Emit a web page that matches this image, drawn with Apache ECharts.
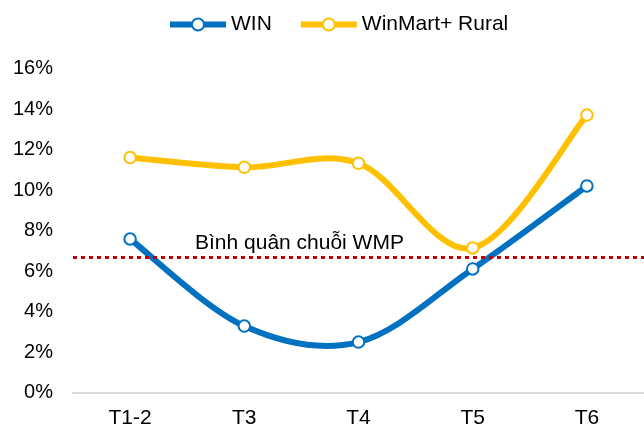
<!DOCTYPE html>
<html><head><meta charset="utf-8">
<script src="https://cdn.jsdelivr.net/npm/echarts@6/dist/echarts.min.js"></script>
<style>html,body{margin:0;padding:0;background:#fff}#c{width:644px;height:429px}</style>
</head><body><div id="c"></div>
<script>
var categories = ['T1-2', 'T3', 'T4', 'T5', 'T6'];
var winValues = [7.58, 3.28, 2.49, 6.1, 10.2];
var ruralValues = [11.6, 11.12, 11.32, 7.14, 13.7];
var averageValue = 6.7;
var averageLabel = 'Bình quân chuỗi WMP';
var seriesNames = ['WIN', 'WinMart+ Rural'];
var yTicks = [0, 2, 4, 6, 8, 10, 12, 14, 16];

var colors = ['#0070c0', '#ffc000'];
var font = 'Liberation Sans, Arial, sans-serif';
var chart = echarts.init(document.getElementById('c'));

// Excel-like smoothed curve (Catmull-Rom segments), positioned via the axes
function curveSeries(values, color) {
  return {
    type: 'custom', silent: true, z: 2,
    data: values.map(function (v, i) { return [i, v]; }),
    encode: {x: 0, y: 1},
    renderItem: function (params, api) {
      var i = params.dataIndex;
      var n = values.length;
      if (i >= n - 1) return null;
      function pt(k) {
        k = Math.max(0, Math.min(n - 1, k));
        return api.coord([k, values[k]]);
      }
      var p0 = pt(i - 1), p1 = pt(i), p2 = pt(i + 1), p3 = pt(i + 2);
      return {
        type: 'bezierCurve',
        shape: {
          x1: p1[0], y1: p1[1], x2: p2[0], y2: p2[1],
          cpx1: p1[0] + (p2[0] - p0[0]) / 6, cpy1: p1[1] + (p2[1] - p0[1]) / 6,
          cpx2: p2[0] - (p3[0] - p1[0]) / 6, cpy2: p2[1] - (p3[1] - p1[1]) / 6
        },
        style: {stroke: color, lineWidth: 6, fill: null, lineCap: 'round'}
      };
    }
  };
}
function pointSeries(name, data, color) {
  return {
    name: name, type: 'line', data: data,
    symbol: 'circle', symbolSize: 11.5, showSymbol: true,
    lineStyle: {color: color, width: 6, opacity: 0},
    itemStyle: {color: '#fff', borderColor: color, borderWidth: 2},
    z: 4
  };
}
var s1 = pointSeries(seriesNames[0], winValues, colors[0]);
var s2 = pointSeries(seriesNames[1], ruralValues, colors[1]);
s1.markLine = {
  silent: true, symbol: 'none', z: 3,
  lineStyle: {color: '#c00000', type: [4, 4], width: 3},
  label: {show: true, position: 'insideStartTop', formatter: averageLabel,
    color: '#000', fontSize: 21, fontFamily: font, distance: [122, 3]},
  data: [{yAxis: averageValue}]
};
chart.setOption({
  animation: false,
  legend: {
    top: 9, left: 162, itemWidth: 56, itemHeight: 15, itemGap: 26,
    textStyle: {fontSize: 21, fontFamily: font, color: '#000'},
    data: seriesNames.map(function (n, i) {
      return {name: n, lineStyle: {color: colors[i], width: 6, opacity: 1},
        itemStyle: {color: '#fff', borderColor: colors[i], borderWidth: 2}};
    })
  },
  grid: {left: 73, right: 0, top: 68.5, bottom: 36.5, containLabel: false},
  xAxis: {
    type: 'category', data: categories, boundaryGap: true,
    axisLine: {lineStyle: {color: '#d9d9d9', width: 2}},
    axisTick: {show: false},
    axisLabel: {fontSize: 21, fontFamily: font, color: '#000', margin: 15}
  },
  yAxis: {
    type: 'value', min: yTicks[0], max: yTicks[yTicks.length - 1], interval: yTicks[1] - yTicks[0],
    axisLine: {show: false}, axisTick: {show: false}, splitLine: {show: false},
    axisLabel: {fontSize: 20, fontFamily: font, color: '#000', margin: 20,
      formatter: function (v) { return v + '%'; }}
  },
  series: [curveSeries(winValues, colors[0]), curveSeries(ruralValues, colors[1]), s1, s2]
});
</script></body></html>
